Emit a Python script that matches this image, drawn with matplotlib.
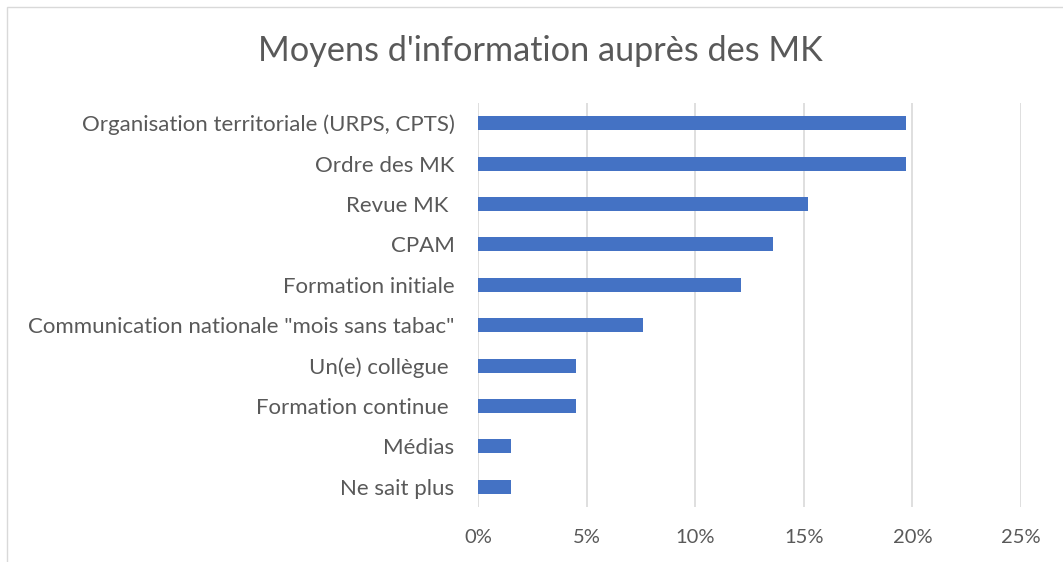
import matplotlib
matplotlib.use("Agg")
import matplotlib.pyplot as plt
from matplotlib.ticker import PercentFormatter, MultipleLocator
from matplotlib.patches import Rectangle

categories = [
    "Organisation territoriale (URPS, CPTS)",
    "Ordre des MK",
    "Revue MK ",
    "CPAM",
    "Formation initiale",
    "Communication nationale \"mois sans tabac\"",
    "Un(e) collègue ",
    "Formation continue ",
    "Médias",
    "Ne sait plus",
]
values = [0.197, 0.197, 0.152, 0.136, 0.121, 0.076, 0.045, 0.045, 0.015, 0.015]
title = "Moyens d'information auprès des MK"

plt.rcParams['font.family'] = ['Lato', 'DejaVu Sans']
txt = "#595959"

fig = plt.figure(figsize=(10.63, 5.62), dpi=100)
W, H = 1063, 562
ax = fig.add_axes([478 / W, 1 - 507 / H, (1021 - 478) / W, (507 - 103) / H])

y = list(range(len(categories)))
ax.barh(y, values, height=0.35, color="#4472C4", zorder=3)
ax.set_ylim(len(categories) - 0.5, -0.5)
ax.set_yticks(y)
ax.set_yticklabels(categories, fontsize=16, color=txt)
ax.set_xlim(0, 0.25)
ax.xaxis.set_major_locator(MultipleLocator(0.05))
ax.xaxis.set_major_formatter(PercentFormatter(1.0, decimals=0))
ax.tick_params(axis='x', labelsize=14.5, colors=txt, length=0, pad=16)
ax.tick_params(axis='y', length=0, pad=17)
ax.grid(axis='x', color="#d9d9d9", linewidth=1.2, zorder=0)
for s in ax.spines.values():
    s.set_visible(False)

fig.text(540 / W, 1 - 51 / H, title, ha='center', va='center', fontsize=24.7, color=txt)

# chart border
fig.patches.append(Rectangle((7 / W, -0.1), 1.2, 1 - 7 / H + 0.1, transform=fig.transFigure,
                             fill=False, edgecolor="#d9d9d9", linewidth=1))

fig.savefig("out.png", dpi=100)
